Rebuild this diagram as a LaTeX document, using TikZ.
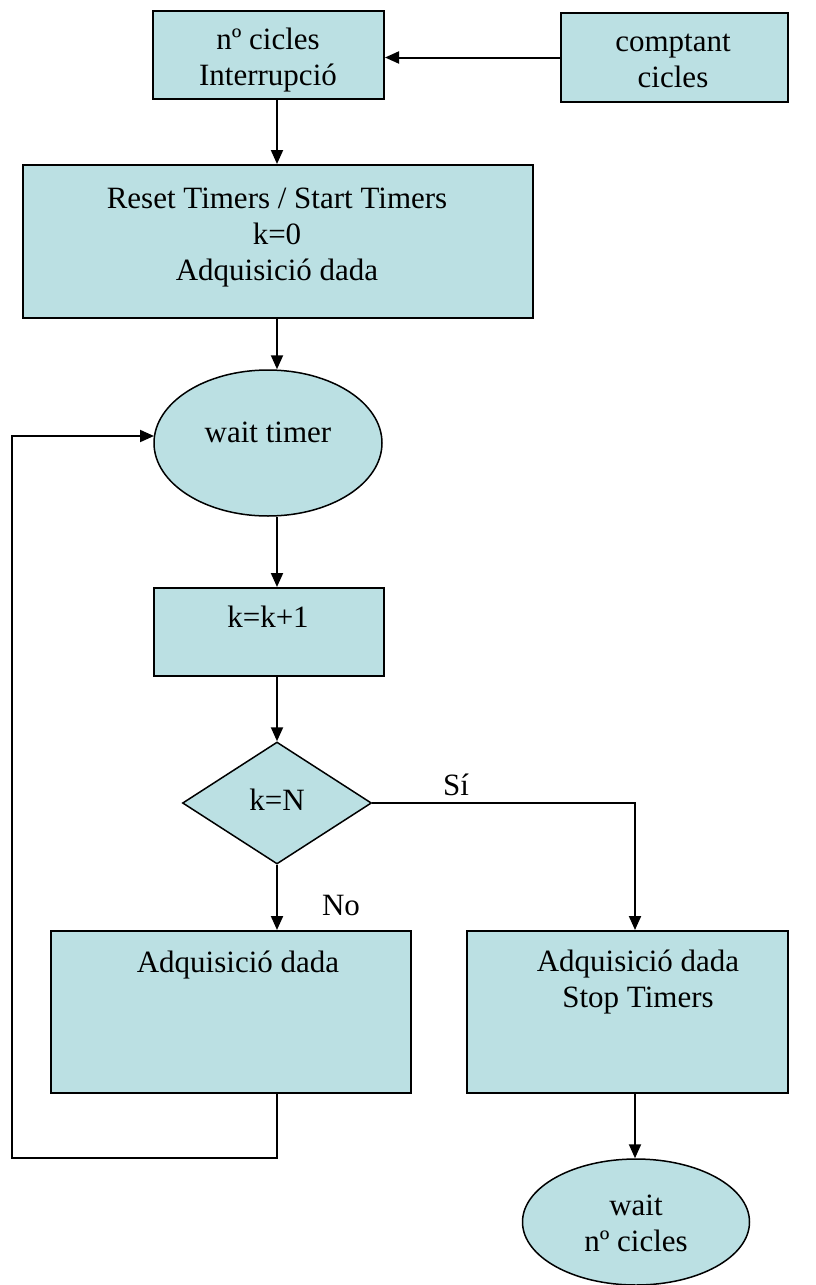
\documentclass[tikz,border=0pt]{standalone}
\usepackage{fontspec}
\setmainfont{Liberation Serif}
\usetikzlibrary{shapes.geometric,arrows.meta}
\definecolor{boxfill}{RGB}{187,224,227}
\begin{document}
\begin{tikzpicture}[x=1pt,y=-1pt,
  shapebox/.style={draw=black,line width=2pt,fill=boxfill,inner sep=0pt,anchor=north west},
  oval/.style={draw=black,line width=1.5pt,fill=boxfill,ellipse,inner sep=0pt},
  decision/.style={draw=black,line width=1.5pt,fill=boxfill,diamond,inner sep=0pt},
  txt/.style={font=\fontsize{31}{36}\selectfont,align=center,inner sep=0pt},
  flow/.style={line width=2pt,-{Triangle[length=14pt,width=12pt]}}]
\useasboundingbox (0,0) rectangle (815,1285);

% process boxes
\node[shapebox,minimum width=231pt,minimum height=88pt] (nc) at (152,10) {};
\node[shapebox,minimum width=227pt,minimum height=89pt] (cc) at (560,12) {};
\node[shapebox,minimum width=510pt,minimum height=153pt] (rs) at (22,164) {};
\node[shapebox,minimum width=230pt,minimum height=88pt] (kk) at (153,587) {};
\node[shapebox,minimum width=360pt,minimum height=162pt] (ad) at (50,930) {};
\node[shapebox,minimum width=321pt,minimum height=162pt] (st) at (466,930) {};

% waits and the decision
\node[oval,minimum width=228pt,minimum height=146pt] (wt) at (268,443) {};
\node[oval,minimum width=227pt,minimum height=126pt] (wn) at (636,1222) {};
\node[decision,minimum width=189pt,minimum height=122pt] (dk) at (277,803) {};

% texts
\node[txt] (t1) at (268,60) {nº cicles\\Interrupció};
\node[txt] (t2) at (673,61) {comptant\\cicles};
\node[txt] (t3) at (277,238) {Reset Timers / Start Timers\\k=0\\Adquisició dada};
\node[txt] (t4) at (268,432) {wait timer};
\node[txt] (t5) at (268,617) {k=k+1};
\node[txt] (t6) at (277,800) {k=N};
\node[txt] (t7) at (238,965) {Adquisició dada};
\node[txt] (t8) at (638,982) {Adquisició dada\\Stop Timers};
\node[txt] (t9) at (636,1223) {wait\\nº cicles};
\node[txt] (si) at (456,785) {Sí};
\node[txt] (no) at (341,905) {No};

% connector routing points
\coordinate (spine) at (277,0);
\coordinate (rspine) at (635,0);
\coordinate (lp1) at (277,1158);
\coordinate (lp2) at (12,1158);
\coordinate (lp3) at (12,436);
\coordinate (lp4) at (154,436);

% connectors
\draw[flow] (cc.west) -- (nc.east |- cc.west);
\draw[flow] (nc.south -| spine) -- (rs.north -| spine);
\draw[flow] (rs.south -| spine) -- (wt.north -| spine);
\draw[flow] (wt.south -| spine) -- (kk.north -| spine);
\draw[flow] (kk.south -| spine) -- (dk.north);
\draw[flow] (dk.east) -- (dk.east -| rspine) -- (st.north -| rspine);
\draw[flow] (dk.south) -- (ad.north -| spine);
\draw[flow] (ad.south -| spine) -- (lp1) -- (lp2) -- (lp3) -- (lp4);
\draw[flow] (st.south -| rspine) -- (wn.north -| rspine);
\end{tikzpicture}
\end{document}
